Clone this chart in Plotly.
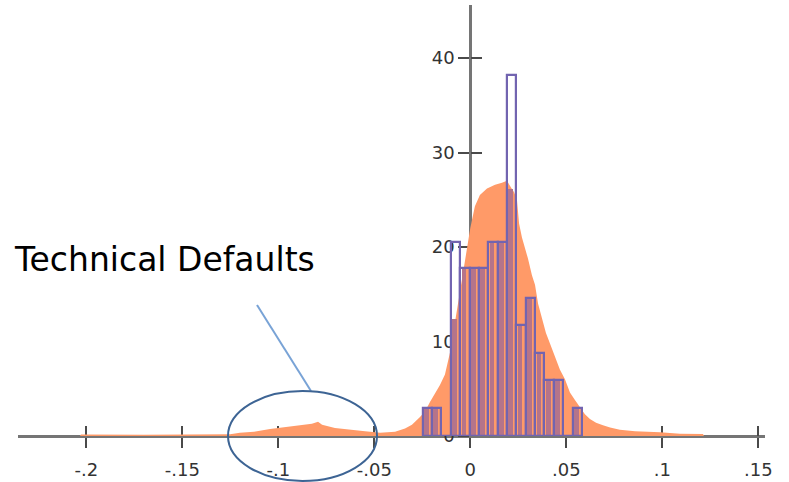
import numpy as np
import plotly.graph_objects as go

# Fine-grained density of returns (orange filled area)
dens_x = [-0.2033, -0.2028, -0.170, -0.140, -0.1251, -0.1200, -0.1127, -0.1043, -0.0965,
          -0.0887, -0.0825, -0.0793, -0.0772, -0.0705, -0.0626, -0.0548, -0.0470, -0.0392,
          -0.0340, -0.0304, -0.0262, -0.0236, -0.0210, -0.0184, -0.0158, -0.0132, -0.0106,
          -0.0080, -0.0054, -0.0028, 0.0000, 0.0024, 0.0050, 0.0087, 0.0129, 0.0165, 0.0191,
          0.0212, 0.0228, 0.0243, 0.0254, 0.0269, 0.0285, 0.0300, 0.0321, 0.0337, 0.0353,
          0.0373, 0.0394, 0.0415, 0.0441, 0.0467, 0.0493, 0.0519, 0.0545, 0.0571, 0.0597,
          0.0623, 0.0655, 0.0691, 0.0728, 0.0779, 0.0858, 0.0988, 0.1092, 0.1212, 0.1217]
dens_y = [0.0, 0.15, 0.12, 0.15, 0.18, 0.35, 0.45, 0.75, 0.95,
          1.15, 1.3, 1.5, 1.2, 0.85, 0.65, 0.5, 0.35, 0.45,
          0.8, 1.2, 2.0, 2.6, 3.6, 4.5, 5.4, 6.5, 8.8,
          12.0, 15.4, 18.5, 22.0, 24.3, 25.5, 26.2, 26.6, 26.8, 27.0,
          26.3, 25.8, 25.0, 22.5, 21.0, 19.9, 18.8, 17.0, 16.0, 14.0,
          12.6, 10.9, 9.8, 8.4, 7.0, 6.0, 4.6, 3.8, 3.0, 2.3,
          1.8, 1.4, 1.15, 0.9, 0.65, 0.5, 0.4, 0.25, 0.2, 0.0]

# Histogram of returns (purple outline bars)
hist_start = -0.0248
hist_width = 0.00488
hist_density = [3.0, 3.0, 0.0, 20.5, 17.8, 17.8, 17.8, 20.5, 20.5,
                38.2, 11.7, 14.6, 8.8, 5.9, 5.9, 0.0, 3.0]

x_tick_vals = [-0.2, -0.15, -0.1, -0.05, 0, 0.05, 0.1, 0.15]
x_tick_text = ["-.2", "-.15", "-.1", "-.05", "0", ".05", ".1", ".15"]
y_tick_vals = [0, 10, 20, 30, 40]
y_tick_text = ["0", "10", "20", "30", "40"]

W, H = 789, 482

# Axis geometry: zero of each axis and pixel scale
X0_PX, PX_PER_X = 470.3, 1920.0
Y0_PX, PX_PER_Y = 436.0, 9.45
x_left_px, x_right_px, y_top_px = 18, 765, 5
x_range = [(x_left_px - X0_PX) / PX_PER_X, (x_right_px - X0_PX) / PX_PER_X]
y_range = [0, (Y0_PX - y_top_px) / PX_PER_Y]
x_domain = [x_left_px / W, x_right_px / W]
y_domain = [1 - Y0_PX / H, 1 - y_top_px / H]
x_axis_pos = 1 - Y0_PX / H
y_axis_pos = X0_PX / W

bin_left = hist_start + hist_width * np.arange(len(hist_density))
bin_center = bin_left + hist_width / 2
overlap = np.minimum(np.array(hist_density), np.interp(bin_center, dens_x, dens_y))

ORANGE = "#FF9A68"
PURPLE = "#7264B0"
MAUVE = "#B5748A"
AXIS = "#757575"
TICK = "#4a4a4a"
FONT = "DejaVu Sans"

fig = go.Figure()
# density on the base subplot
fig.add_trace(go.Scatter(x=dens_x, y=dens_y, mode="lines", fill="tozeroy",
                         line=dict(width=0, color=ORANGE), fillcolor=ORANGE,
                         hoverinfo="skip"))
# histogram on the overlaying subplot so it sits on top of the density
fig.add_trace(go.Bar(x=bin_left, y=overlap, width=hist_width * 0.5,
                     offset=hist_width * 0.15, xaxis="x2", yaxis="y2",
                     marker=dict(color=MAUVE, line=dict(width=0)), hoverinfo="skip"))
fig.add_trace(go.Bar(x=bin_left, y=hist_density, width=hist_width, offset=0,
                     xaxis="x2", yaxis="y2",
                     marker=dict(color="rgba(0,0,0,0)", line=dict(color=PURPLE, width=2.2))))

common_x = dict(domain=x_domain, range=x_range, anchor="free", position=x_axis_pos,
                tickvals=x_tick_vals, showgrid=False, zeroline=False,
                tickwidth=2, tickcolor=TICK, ticklen=10, layer="below traces")
common_y = dict(domain=y_domain, range=y_range, anchor="free", position=y_axis_pos,
                tickvals=y_tick_vals, showgrid=False, zeroline=False,
                tickwidth=2, tickcolor=TICK, ticklen=11, layer="below traces")

fig.update_layout(
    width=W, height=H,
    margin=dict(l=0, r=0, t=0, b=0, pad=0),
    paper_bgcolor="white", plot_bgcolor="white",
    showlegend=False, barmode="overlay", bargap=0,
    xaxis=dict(**common_x, ticks="outside", ticktext=x_tick_text,
               showline=True, linecolor=AXIS, linewidth=3,
               tickfont=dict(family=FONT, size=18, color="#333333"),
               ticklabelstandoff=6, automargin=False),
    xaxis2=dict(**common_x, overlaying="x", ticks="inside", showticklabels=False,
                showline=False),
    yaxis=dict(**common_y, ticks="outside", ticktext=y_tick_text,
               showline=True, linecolor=AXIS, linewidth=3,
               tickfont=dict(family=FONT, size=18, color="#333333"),
               ticklabelstandoff=0, automargin=False),
    yaxis2=dict(**common_y, overlaying="y", ticks="inside", showticklabels=False,
                showline=False),
    shapes=[
        dict(type="line", xref="paper", yref="paper",
             x0=257 / W, y0=1 - 305 / H, x1=311 / W, y1=1 - 391 / H,
             line=dict(color="#79A3D6", width=2)),
        dict(type="circle", xref="paper", yref="paper",
             x0=228 / W, x1=377 / W, y0=1 - 481 / H, y1=1 - 391 / H,
             line=dict(color="#3D6494", width=2)),
    ],
    annotations=[
        dict(text="Technical Defaults", xref="paper", yref="paper",
             x=12 / W, y=1 - 259 / H, xanchor="left", yanchor="middle",
             showarrow=False, font=dict(family=FONT, size=33, color="black")),
    ],
)

fig.write_html("out.html")
